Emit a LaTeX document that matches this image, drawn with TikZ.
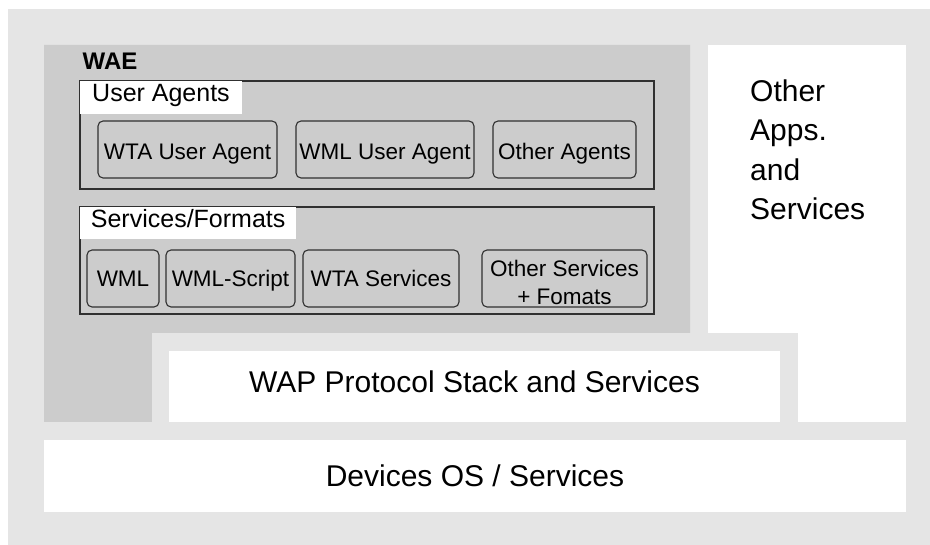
\documentclass[tikz,border=0pt]{standalone}
\usepackage{fontspec}
\setmainfont{Liberation Sans}
\begin{document}
\begin{tikzpicture}[x=1pt,y=-1pt,
  lightbg/.style={fill=lg, draw=none},
  darkbg/.style={fill=dg, draw=none},
  whitebg/.style={fill=white, draw=none},
  frame/.style={draw=edge, line width=1.2pt, fill=none},
  rbox/.style={draw=edge, line width=1.1pt, rounded corners=5pt, fill=dg, inner sep=0pt},
  big/.style={font=\fontsize{30}{36}\selectfont, inner sep=0pt},
  small/.style={font=\fontsize{22.5}{27}\selectfont, inner sep=0pt},
  lbl/.style={font=\fontsize{25}{30}\selectfont, inner sep=0pt},
]
\definecolor{lg}{HTML}{E5E5E5}
\definecolor{dg}{HTML}{CCCCCC}
\definecolor{edge}{HTML}{303030}
\useasboundingbox (0,0) rectangle (930,545);
\fill[white] (0,0) rectangle (930,545);
\fill[lg] (8,9) rectangle (930,545);
% WAE L-shaped area
\fill[dg] (44,45) -- (690,45) -- (690,333) -- (152,333) -- (152,422) -- (44,422) -- cycle;
% Other apps
\fill[white] (708,45) rectangle (906,422);
% WAP stack frame
\fill[lg] (152,333) rectangle (798,422);
\node[whitebg, minimum width=611, minimum height=71, inner sep=0pt] (wap) at (474.5,386.5) {};
\node[big, anchor=base] (waptext) at (474.5,392.5) {WAP Protocol Stack and Services};
% Devices
\node[whitebg, minimum width=862, minimum height=72, inner sep=0pt] (dev) at (475,476) {};
\node[big, anchor=base] (devtext) at (475,486) {Devices OS / Services};
% Other apps text
\node[big, anchor=base west] (oa1) at (750,101.7) {Other};
\node[big, anchor=base west] (oa2) at (750,140.5) {Apps.};
\node[big, anchor=base west] (oa3) at (750,180.5) {and};
\node[big, anchor=base west] (oa4) at (750,220) {Services};
% WAE label
\node[font=\bfseries\fontsize{24}{28}\selectfont, inner sep=0pt, anchor=base west] (wae) at (82.5,70) {WAE};
% User agents frame
\draw[frame] (80,81) rectangle (654,189);
\fill[white] (80,81) rectangle (242,114);
\node[lbl, anchor=base west] (ualbl) at (92,101.7) {User Agents};
\node[rbox, minimum width=179, minimum height=57] (wtaua) at (187.5,149.5) {};
\node[small, anchor=base] (wtauat) at (187.5,160) {WTA User Agent};
\node[rbox, minimum width=178, minimum height=57] (wmlua) at (385,149.5) {};
\node[small, anchor=base] (wmluat) at (385,160) {WML User Agent};
\node[rbox, minimum width=143, minimum height=57] (otha) at (564.5,149.5) {};
\node[small, anchor=base] (othat) at (564.5,160) {Other Agents};
% Services frame
\draw[frame] (80,207) rectangle (654,314);
\fill[white] (80,207) rectangle (296,239);
\node[lbl, anchor=base west] (sflbl) at (90.7,227.7) {Services/Formats};
\node[rbox, minimum width=72, minimum height=57] (wml) at (123,278.5) {};
\node[small, anchor=base] (wmlt) at (123,286.7) {WML};
\node[rbox, minimum width=129, minimum height=57] (wmls) at (230.5,278.5) {};
\node[small, anchor=base] (wmlst) at (230.5,286.7) {WML-Script};
\node[rbox, minimum width=156, minimum height=57] (wtas) at (381,278.5) {};
\node[small, anchor=base] (wtast) at (381,286.7) {WTA Services};
\node[rbox, minimum width=165, minimum height=57] (oths) at (564.5,278.5) {};
\node[small, anchor=base] (othst1) at (564.5,276.7) {Other Services};
\node[small, anchor=base] (othst2) at (564.5,304.3) {+ Fomats};
\end{tikzpicture}
\end{document}
